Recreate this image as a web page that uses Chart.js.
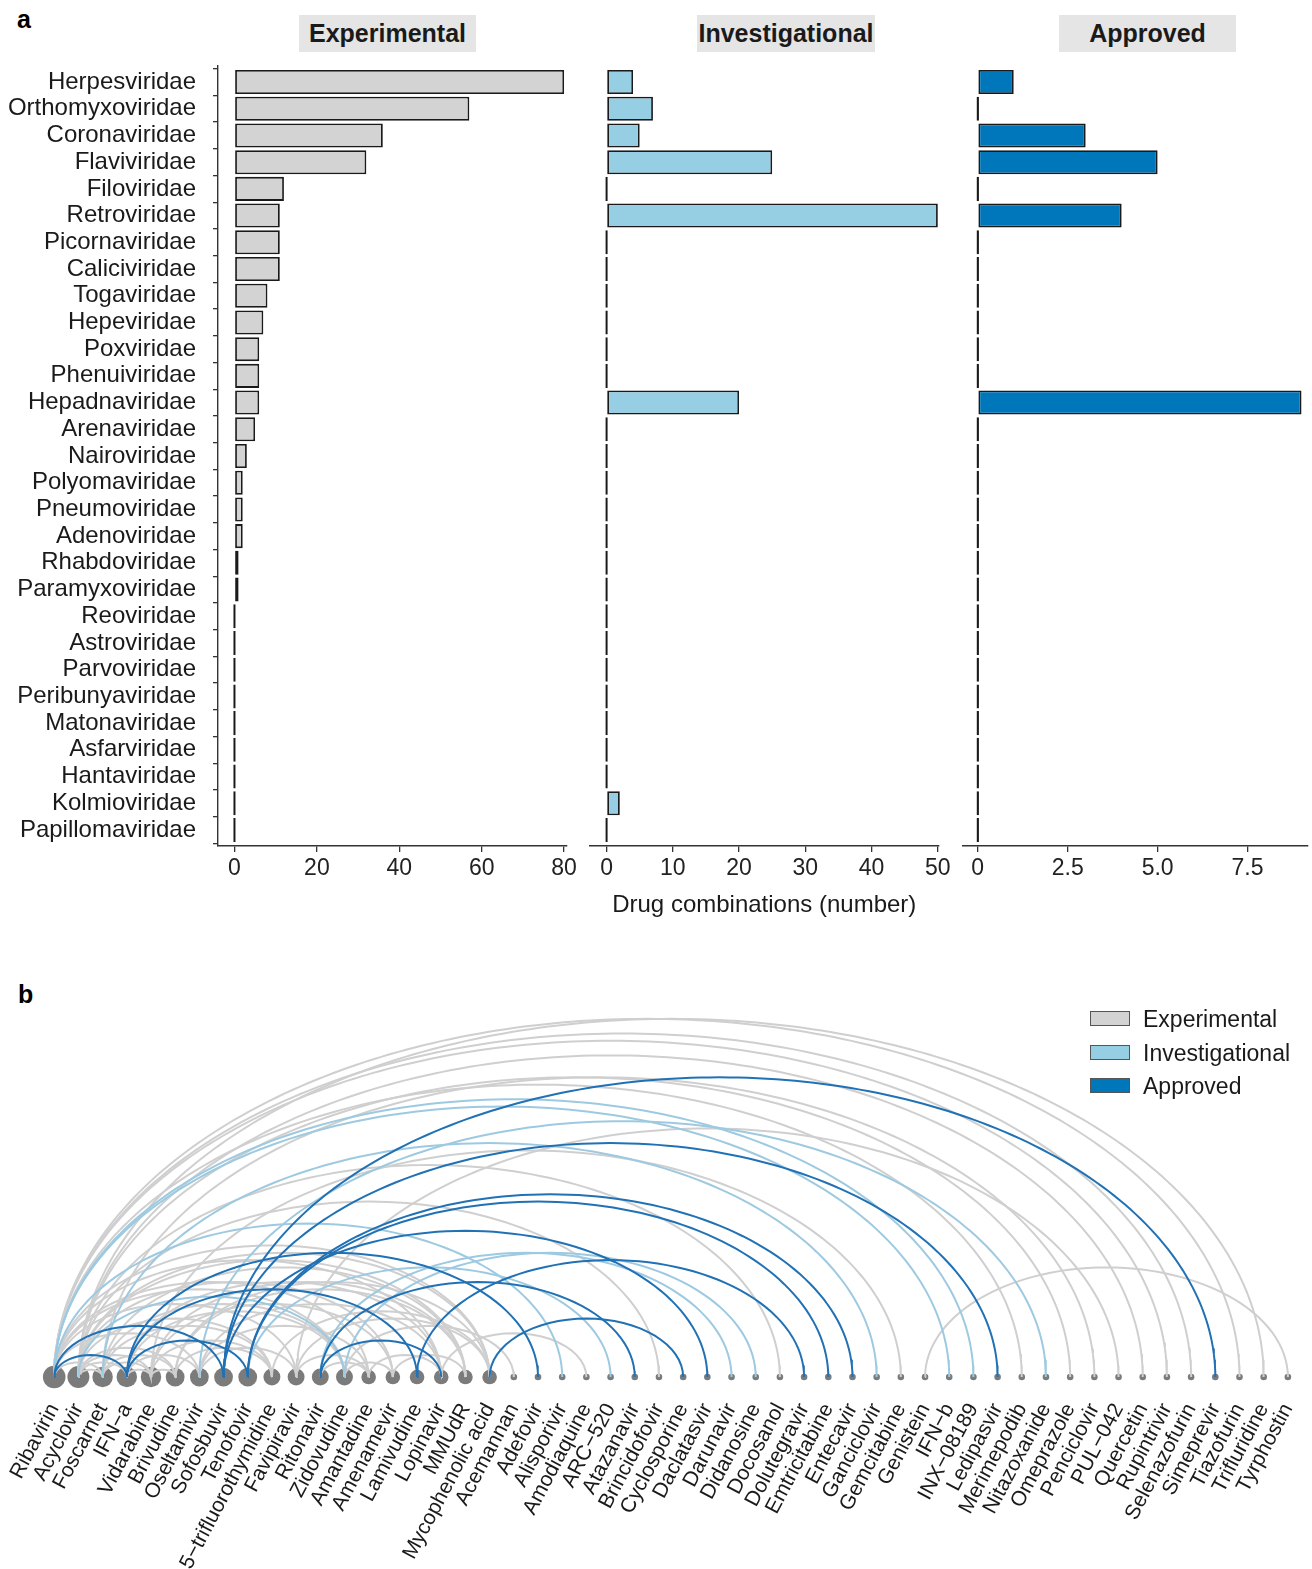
<!DOCTYPE html>
<html>
<head>
<meta charset="utf-8">
<script src="https://cdn.jsdelivr.net/npm/chart.js@4.4.1/dist/chart.umd.min.js"></script>
<style>
html,body{margin:0;padding:0;background:#fff;}
body{width:1312px;height:1569px;position:relative;overflow:hidden;font-family:"Liberation Sans",Arial,sans-serif;}
canvas{position:absolute;}
.plabel{position:absolute;font-weight:bold;font-size:25px;line-height:25px;color:#000;}
.strip{position:absolute;top:15px;height:37px;width:177px;background:#e5e5e5;font-weight:bold;font-size:25px;color:#1a1a1a;text-align:center;line-height:37px;}
.lg{position:absolute;left:1090px;height:28px;line-height:28px;font-size:23px;color:#1a1a1a;white-space:nowrap;}
.lg span{display:inline-block;width:38px;height:13px;border:1.3px solid #555;vertical-align:middle;margin-right:13px;position:relative;top:-2px;}
</style>
</head>
<body>
<div class="plabel" style="left:17px;top:7px">a</div>
<div class="plabel" style="left:18px;top:982px">b</div>
<div class="strip" style="left:299px">Experimental</div>
<div class="strip" style="left:697px;width:178px">Investigational</div>
<div class="strip" style="left:1059px">Approved</div>

<canvas id="c1" width="580" height="940" style="left:0;top:0"></canvas>
<canvas id="c2" width="380" height="940" style="left:580px;top:0"></canvas>
<canvas id="c3" width="362" height="940" style="left:950px;top:0"></canvas>
<canvas id="cb" width="1312" height="579" style="left:0;top:990px"></canvas>

<div class="lg" style="top:1005px"><span style="background:#d3d3d3"></span>Experimental</div>
<div class="lg" style="top:1039px"><span style="background:#96cee4"></span>Investigational</div>
<div class="lg" style="top:1072px"><span style="background:#0077bb"></span>Approved</div>

<script>
// ---------- DATA: panel a ----------
const families = ["Herpesviridae","Orthomyxoviridae","Coronaviridae","Flaviviridae","Filoviridae","Retroviridae","Picornaviridae","Caliciviridae","Togaviridae","Hepeviridae","Poxviridae","Phenuiviridae","Hepadnaviridae","Arenaviridae","Nairoviridae","Polyomaviridae","Pneumoviridae","Adenoviridae","Rhabdoviridae","Paramyxoviridae","Reoviridae","Astroviridae","Parvoviridae","Peribunyaviridae","Matonaviridae","Asfarviridae","Hantaviridae","Kolmioviridae","Papillomaviridae"];
const experimental    = [80,57,36,32,12,11,11,11,8,7,6,6,6,5,3,2,2,2,1,1,0,0,0,0,0,0,0,0,0];
const investigational = [4,7,5,25,0,50,0,0,0,0,0,0,20,0,0,0,0,0,0,0,0,0,0,0,0,0,0,2,0];
const approved        = [1,0,3,5,0,4,0,0,0,0,0,0,9,0,0,0,0,0,0,0,0,0,0,0,0,0,0,0,0];
const expTicks = [0,20,40,60,80];
const invTicks = [0,10,20,30,40,50];
const appTicks = [0,2.5,5,7.5];

// ---------- DATA: panel b ----------
const drugs = ["Ribavirin","Acyclovir","Foscarnet","IFN\u2212a","Vidarabine","Brivudine","Oseltamivir","Sofosbuvir","Tenofovir","5\u2212trifluorothymidine","Favipiravir","Ritonavir","Zidovudine","Amantadine","Amenamevir","Lamivudine","Lopinavir","MMUdR","Mycophenolic acid","Acemannan","Adefovir","Alisporivir","Amodiaquine","ARC\u2212520","Atazanavir","Brincidofovir","Cyclosporine","Daclatasvir","Darunavir","Didanosine","Docosanol","Dolutegravir","Emtricitabine","Entecavir","Ganciclovir","Gemcitabine","Genistein","IFN\u2212b","INX\u221208189","Ledipasvir","Merimepodib","Nitazoxanide","Omeprazole","Penciclovir","PUL\u2212042","Quercetin","Rupintrivir","Selenazofurin","Simeprevir","Tiazofurin","Trifluridine","Tyrphostin"];
const drugDegree = [13,12,10,10,10,8,8,8,8,6,6,6,6,4,4,4,4,4,4,1,1,1,1,1,1,1,1,1,1,1,1,1,1,1,1,1,1,1,1,1,1,1,1,1,1,1,1,1,1,1,1,1];
const approvedPairs = [[0,3],[0,7],[3,8],[3,15],[3,20],[7,27],[7,39],[7,48],[8,32],[8,33],[11,16],[11,24],[15,31],[18,26]];
const investigationalPairs = [[0,21],[0,37],[0,38],[2,34],[6,41],[8,23],[11,28],[12,29],[1,12]];
const experimentalPairs = [[12,19],[16,22],[1,25],[1,30],[4,35],[36,51],[0,40],[1,42],[2,43],[10,44],[1,45],[0,46],[0,47],[0,49],[1,50],
  [0,6],[0,10],[0,13],[0,18],[0,12],[0,2],[0,16],[1,2],[1,3],[1,4],[1,5],[1,9],[1,14],[1,17],[2,4],[2,5],[2,9],[2,12],[3,4],[3,12],[3,16],
  [4,5],[4,9],[4,17],[4,14],[5,9],[5,17],[6,10],[6,13],[6,16],[10,13],[12,14],[13,16],[14,17],[2,17],[5,18],[9,18],[1,18],[3,6],[10,18],[11,13]];

// ---------- STYLE ----------
Chart.defaults.animation = false;
Chart.defaults.font.family = "'Liberation Sans', Arial, sans-serif";
Chart.defaults.color = "#1a1a1a";
const AX = "#333333";

function barChart(id, values, fill, xMin, xMax, ticks, fmt, showY, pad, xTitle) {
  const xScale = {
    type: 'linear', min: xMin, max: xMax, offset: false,
    afterBuildTicks: ax => { ax.ticks = ticks.map(v => ({value: v})); },
    ticks: {font: {size: 23}, color: '#222', padding: 3, autoSkip: false, maxRotation: 0, callback: v => fmt(v)},
    grid: {display: true, drawOnChartArea: false, drawTicks: true, tickLength: 6, color: AX, lineWidth: 1.3},
    border: {display: true, color: AX, width: 1.4},
    afterFit: s => { s.height = 94; }
  };
  if (xTitle) xScale.title = {display: true, text: xTitle, font: {size: 24}, color: '#1a1a1a', padding: {top: 0, bottom: 20}};
  const yScale = {
    type: 'linear', min: -0.6, max: families.length - 0.4, reverse: true, offset: false, display: showY,
    afterBuildTicks: ax => { ax.ticks = families.map((_, i) => ({value: i})); },
    ticks: {autoSkip: false, font: {size: 24}, color: '#1a1a1a', padding: 17, callback: v => families[v]},
    grid: {display: true, drawOnChartArea: false, drawTicks: true, tickLength: 5, color: AX, lineWidth: 1.3},
    border: {display: true, color: AX, width: 1.4}
  };
  if (showY) yScale.afterFit = s => { s.width = 218; };
  return new Chart(document.getElementById(id), {
    type: 'bar',
    data: {datasets: [{
      data: values.map((v, i) => ({x: v, y: i})),
      backgroundColor: fill, borderColor: '#1a1a1a', borderWidth: 1.8, borderSkipped: false,
      barPercentage: 0.9, categoryPercentage: 1.0, minBarLength: 2.4
    }]},
    options: {
      indexAxis: 'y', responsive: false,
      layout: {padding: pad},
      plugins: {legend: {display: false}, tooltip: {enabled: false}},
      scales: {x: xScale, y: yScale}
    }
  });
}

barChart('c1', experimental, '#d3d3d3', -4, 80.7, expTicks, v => String(v), true, {top: 66, right: 13, left: 0, bottom: 0});
barChart('c2', investigational, '#96cee4', -2.5, 50.1, invTicks, v => String(v), false, {top: 66, right: 21.5, left: 10, bottom: 0}, 'Drug combinations (number)');
barChart('c3', approved, '#0077bb', -0.41, 9.18, appTicks, v => v === 0 ? '0' : v.toFixed(1), false, {top: 66, right: 4, left: 13, bottom: 0});

// ---------- panel b: arc diagram ----------
function arcPoints(i, j) {
  const c = (i + j) / 2, a = Math.abs(j - i) / 2;
  const n = Math.max(24, Math.ceil(a * 8));
  const pts = [];
  for (let k = 0; k <= n; k++) {
    const t = Math.PI * k / n;
    pts.push({x: c - a * Math.cos(t), y: a * Math.sin(t)});
  }
  return pts;
}
function arcSets(pairs, color) {
  return pairs.map(p => ({
    data: arcPoints(p[0], p[1]), showLine: true, borderColor: color, borderWidth: 2,
    pointRadius: 0, pointHoverRadius: 0, fill: false, tension: 0
  }));
}
const nodeRadius = d => 3.3 + 8 * Math.sqrt((d - 1) / 12);
const datasets = [
  ...arcSets(approvedPairs, '#2171b5'),
  ...arcSets(investigationalPairs, '#9ecae1'),
  ...arcSets(experimentalPairs, '#cfcfcf'),
  {
    data: drugs.map((_, i) => ({x: i, y: 0})),
    pointRadius: drugDegree.map(nodeRadius), pointHoverRadius: drugDegree.map(nodeRadius),
    backgroundColor: '#7b7b7b', borderWidth: 0, showLine: false
  }
];
new Chart(document.getElementById('cb'), {
  type: 'scatter',
  data: {datasets},
  options: {
    responsive: false,
    layout: {padding: {left: 10, right: 10, top: 10, bottom: 0}},
    plugins: {legend: {display: false}, tooltip: {enabled: false}},
    scales: {
      x: {
        type: 'linear', min: -1.774, max: 51.53,
        afterBuildTicks: ax => { ax.ticks = drugs.map((_, i) => ({value: i})); },
        ticks: {autoSkip: false, minRotation: 62, maxRotation: 62, font: {size: 21}, color: '#1a1a1a', padding: 1, callback: v => drugs[v]},
        grid: {display: false}, border: {display: false},
        afterFit: s => { s.height = 178.8; }
      },
      y: {type: 'linear', min: -0.9, max: 25.7, display: false}
    }
  }
});
</script>
</body>
</html>
